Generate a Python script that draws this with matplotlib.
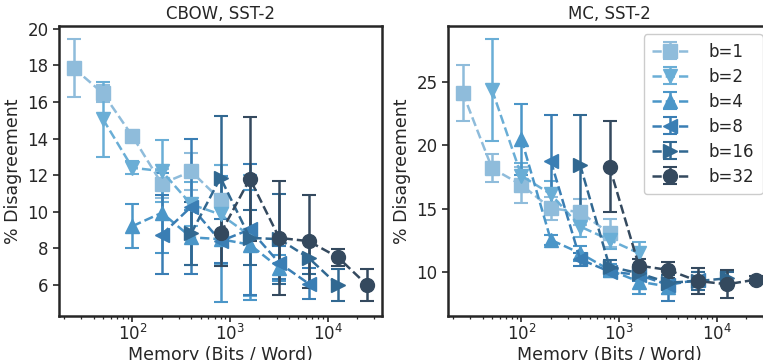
import matplotlib
matplotlib.use("Agg")
import matplotlib.pyplot as plt
import numpy as np

# memory in bits / word = b * dim, dims 25..800
dims = [25, 50, 100, 200, 400, 800]
bits = [1, 2, 4, 8, 16, 32]
labels = ["b=1", "b=2", "b=4", "b=8", "b=16", "b=32"]

# CBOW, SST-2
cbow_mean = {
    1: [17.85, 16.47, 14.13, 11.53, 12.2, 10.65],
    2: [15.05, 12.4, 12.22, 10.4, 9.85, 8.7],
    4: [9.21, 9.94, 8.6, 8.5, 8.2, 6.93],
    8: [8.75, 10.27, 8.39, 9.03, 7.2, 6.07],
    16: [8.81, 11.86, 8.57, 8.5, 7.48, 5.98],
    32: [8.81, 11.8, 8.57, 8.39, 7.51, 5.98],
}
cbow_std = {
    1: [1.6, 0.45, 0.3, 0.8, 1.0, 1.9],
    2: [2.05, 0.35, 1.7, 1.2, 2.7, 3.3],
    4: [1.2, 2.2, 1.5, 3.45, 3.0, 0.7],
    8: [2.15, 3.7, 1.2, 3.6, 0.9, 0.85],
    16: [1.7, 3.35, 1.5, 2.45, 0.9, 0.87],
    32: [1.75, 3.4, 3.1, 2.55, 0.45, 0.87],
}

# MC, SST-2
mc_mean = {
    1: [24.15, 18.19, 16.88, 15.04, 14.73, 13.07],
    2: [24.37, 17.6, 16.15, 13.6, 12.55, 11.5],
    4: [20.48, 12.55, 11.5, 10.18, 9.26, 8.87],
    8: [18.77, 11.02, 10.05, 9.79, 9.0, 9.4],
    16: [18.45, 10.44, 9.92, 9.18, 9.3, 9.52],
    32: [18.32, 10.52, 10.18, 9.31, 9.05, 9.42],
}
mc_std = {
    1: [2.2, 1.1, 1.4, 0.9, 1.0, 1.1],
    2: [4.0, 1.0, 1.0, 0.8, 0.7, 0.9],
    4: [2.8, 0.4, 0.6, 0.5, 1.0, 0.6],
    8: [3.6, 0.5, 0.4, 0.5, 1.3, 0.6],
    16: [3.9, 0.5, 0.5, 0.6, 0.7, 0.5],
    32: [3.6, 0.5, 0.6, 1.0, 1.1, 0.3],
}

colors = ["#8fbcdb", "#6aaed6", "#4b96c8", "#3a7eb4", "#316891", "#34495e"]
markers = ["s", "v", "^", "<", ">", "o"]

plt.rcParams.update({
    "font.family": "DejaVu Sans",
    "font.size": 11,
    "text.color": "#262626",
    "axes.labelcolor": "#262626",
    "xtick.color": "#262626",
    "ytick.color": "#262626",
    "axes.edgecolor": "#262626",
    "axes.linewidth": 1.8,
})


def draw(ax, means, stds, title, yticks, ylim, legend=False):
    for b, lab, c, m in zip(bits, labels, colors, markers):
        x = np.array(dims) * b
        ax.errorbar(x, means[b], yerr=stds[b], color=c, marker=m,
                    markersize=10, linestyle="--", linewidth=1.8,
                    elinewidth=1.8, capsize=5, capthick=1.5, label=lab)
    ax.set_xscale("log")
    ax.set_xlim(10 ** 1.2474, 10 ** 4.5586)
    ax.set_ylim(*ylim)
    ax.set_yticks(yticks)
    ax.set_title(title, fontsize=12, pad=5)
    ax.set_xlabel("Memory (Bits / Word)", fontsize=12.5, labelpad=1)
    ax.set_ylabel("% Disagreement", fontsize=12.5)
    ax.tick_params(axis="both", which="major", labelsize=12, length=4, width=1.2)
    ax.tick_params(axis="x", which="major", pad=2)
    ax.tick_params(axis="x", which="minor", length=2.5, width=0.9)
    if legend:
        ax.legend(loc="upper right", fontsize=12, labelspacing=0.42,
                  handlelength=2.2, handletextpad=1.2, borderpad=0.5,
                  edgecolor="#cccccc", framealpha=1.0)


fig = plt.figure(figsize=(7.63, 3.6), dpi=100)
ax1 = fig.add_axes([59 / 763, 44 / 360, 323 / 763, 290 / 360])
ax2 = fig.add_axes([448 / 763, 44 / 360, 323 / 763, 290 / 360])

draw(ax1, cbow_mean, cbow_std, "CBOW, SST-2", [6, 8, 10, 12, 14, 16, 18, 20], (4.3, 20.15))
draw(ax2, mc_mean, mc_std, "MC, SST-2", [10, 15, 20, 25], (6.55, 29.4), legend=True)

fig.savefig("out.png", dpi=100)
